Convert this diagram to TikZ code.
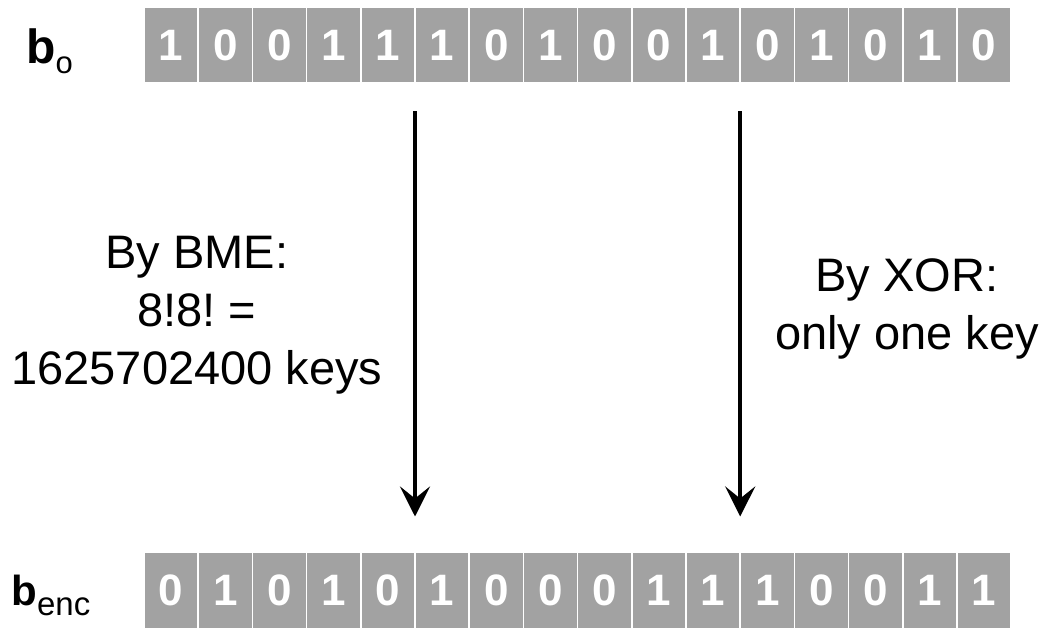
\documentclass[tikz,border=0pt]{standalone}
\usepackage{fontspec}
\setmainfont{Liberation Sans}
\usetikzlibrary{arrows.meta}
\definecolor{bitgray}{RGB}{162,162,162}
\tikzset{
  bit/.style={fill=bitgray,draw=white,line width=0.8pt,inner sep=0pt,outer sep=0pt,
    minimum width=27.1pt,minimum height=38pt,text=white,
    font=\fontsize{22}{22}\selectfont\bfseries},
  note/.style={align=center,font=\fontsize{23.5}{29}\selectfont},
  vec/.style={anchor=base west,inner sep=0pt,font=\bfseries},
  keyarrow/.style={-{Stealth[length=15pt,width=15pt,inset=6pt]},line width=2pt,
    shorten <=14pt,shorten >=18pt}
}
\newcommand{\subtxt}[2]{\raisebox{-5pt}{\fontsize{#1}{#1}\selectfont\mdseries #2}}
\begin{document}
\begin{tikzpicture}[x=0.5pt,y=-0.5pt]
  \useasboundingbox (0,0) rectangle (1046,628);
  % original and encrypted bit strings
  \foreach \b [count=\i] in {1,0,0,1,1,1,0,1,0,0,1,0,1,0,1,0}
    \node[bit] (t\i) at (144+54.2*\i-27.1,45) {\b};
  \foreach \b [count=\i] in {0,1,0,1,0,1,0,0,0,1,1,1,0,0,1,1}
    \node[bit] (e\i) at (144+54.2*\i-27.1,590.5) {\b};
  \node[vec] (lo) at (26,63) {\fontsize{24}{24}\selectfont b\subtxt{15.5}{o}};
  \node[vec] (lenc) at (11,605) {\fontsize{21}{21}\selectfont b\subtxt{16.5}{enc}};
  % the two ways of encrypting
  \draw[keyarrow] (t5.south east) -- (e5.north east);
  \draw[keyarrow] (t11.south east) -- (e11.north east);
  \node[note] (bme) at (197,315) {By BME:\\8!8!\ =\\1625702400 keys};
  \node[note] (xor) at (907,309) {By XOR:\\only one key};
\end{tikzpicture}
\end{document}
